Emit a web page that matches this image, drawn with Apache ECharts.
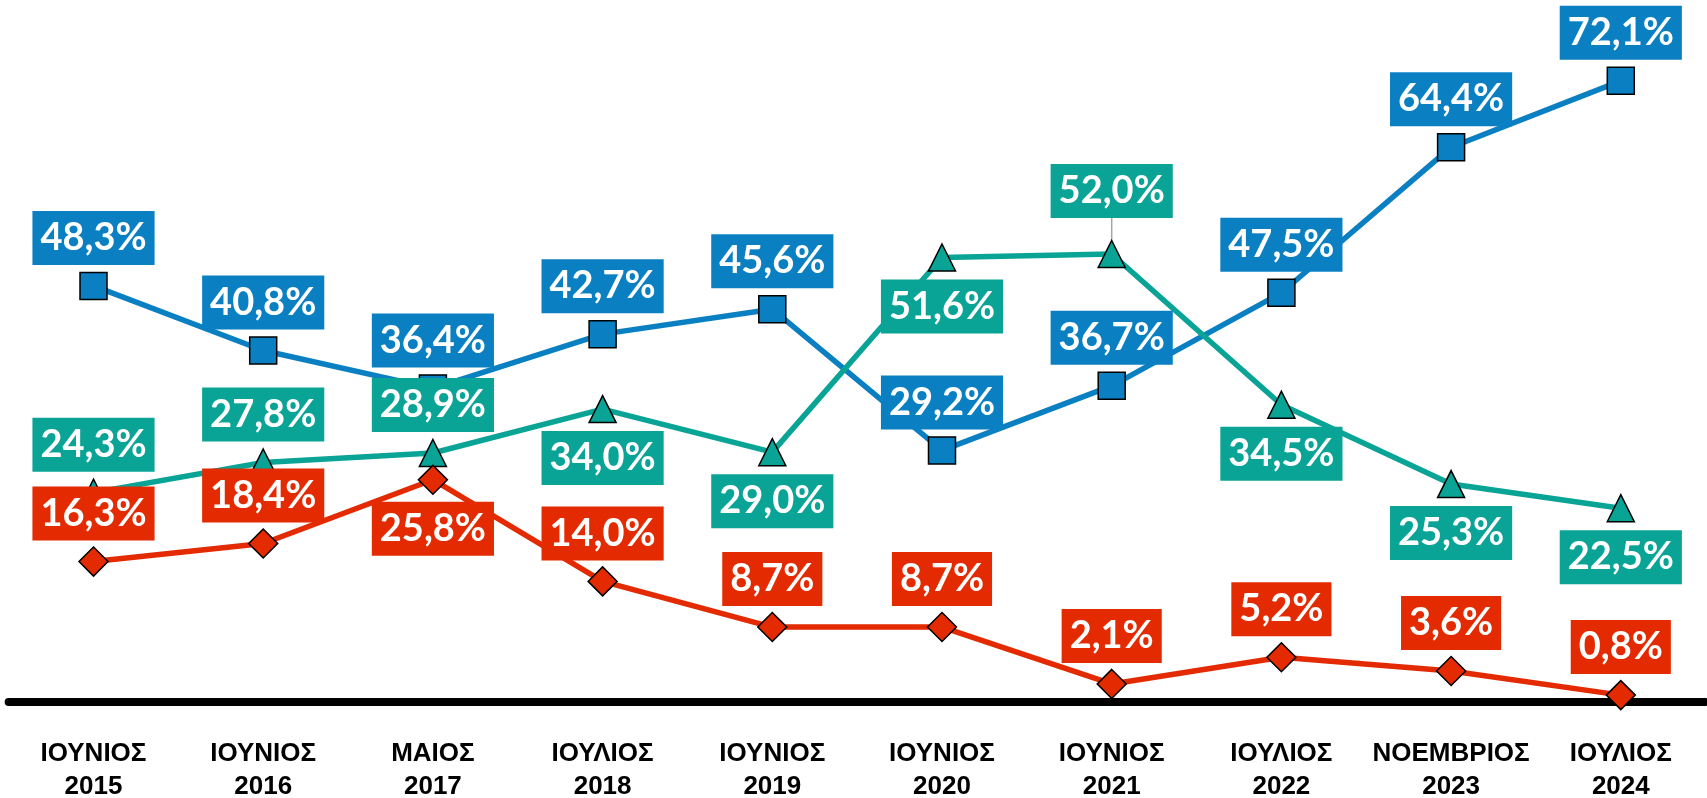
<!DOCTYPE html>
<html>
<head>
<meta charset="utf-8">
<script src="https://cdn.jsdelivr.net/npm/echarts@6/dist/echarts.min.js"></script>
<style>
  html, body { margin: 0; padding: 0; background: #fff; }
  #chart { width: 1707px; height: 798px; }
</style>
</head>
<body>
<div id="chart"></div>
<script>
// months and years on the x axis
const months = ['ΙΟΥΝΙΟΣ', 'ΙΟΥΝΙΟΣ', 'ΜΑΙΟΣ', 'ΙΟΥΛΙΟΣ', 'ΙΟΥΝΙΟΣ', 'ΙΟΥΝΙΟΣ', 'ΙΟΥΝΙΟΣ', 'ΙΟΥΛΙΟΣ', 'ΝΟΕΜΒΡΙΟΣ', 'ΙΟΥΛΙΟΣ'];
const years = ['2015', '2016', '2017', '2018', '2019', '2020', '2021', '2022', '2023', '2024'];

// series values (%)
const blueValues = [48.3, 40.8, 36.4, 42.7, 45.6, 29.2, 36.7, 47.5, 64.4, 72.1];
const greenValues = [24.3, 27.8, 28.9, 34.0, 29.0, 51.6, 52.0, 34.5, 25.3, 22.5];
const redValues = [16.3, 18.4, 25.8, 14.0, 8.7, 8.7, 2.1, 5.2, 3.6, 0.8];

// where each label sits: 1 = above the point, -1 = below, 2 = further above with a guide line
const blueSide = [1, 1, 1, 1, 1, 1, 1, 1, 1, 1];
const greenSide = [1, 1, 1, -1, -1, -1, 2, -1, -1, -1];
const redSide = [1, 1, -1, 1, 1, 1, 1, 1, 1, 1];

const categories = months.map((m, i) => m + '\n' + years[i]);

function fmt(p) {
    return p.value.toFixed(1).replace('.', ',') + '%';
}

function buildData(values, side) {
    return values.map((v, i) => {
        let dy = side[i] === 1 ? -48 : (side[i] === -1 ? 49 : -63);
        const item = {
            value: v,
            label: { offset: [0, dy] }
        };
        if (side[i] === 2) {
            item.labelLine = { show: true, lineStyle: { color: '#a6a6a6', width: 1.5 } };
        }
        return item;
    });
}

function makeSeries(name, values, side, color, symbol, size) {
    return {
        name: name,
        type: 'line',
        data: buildData(values, side),
        symbol: symbol,
        symbolSize: size,
        color: color,
        lineStyle: { width: 5.5, color: color },
        itemStyle: { color: color, borderColor: '#000', borderWidth: 1.5 },
        label: {
            show: true,
            position: 'inside',
            formatter: fmt,
            color: '#fff',
            backgroundColor: color,
            fontFamily: 'Lato',
            fontWeight: 'bold',
            fontSize: 38,
            lineHeight: 54,
            padding: [0, 8]
        },
        emphasis: { disabled: true }
    };
}

const chart = echarts.init(document.getElementById('chart'));
chart.setOption({
    animation: false,
    grid: { left: 8.65, width: 1697, top: 12.8, bottom: 96, outerBoundsMode: 'none', containLabel: false },
    xAxis: {
        type: 'category',
        data: categories,
        boundaryGap: true,
        axisLine: { lineStyle: { color: '#000', width: 8 } },
        axisTick: { show: false },
        axisLabel: {
            color: '#000',
            fontFamily: 'Liberation Sans',
            fontWeight: 'bold',
            fontSize: 26,
            lineHeight: 33,
            margin: 35,
            interval: 0
        }
    },
    yAxis: {
        type: 'value',
        min: 0,
        max: 80,
        show: false,
        splitLine: { show: false }
    },
    series: [
        makeSeries('blue', blueValues, blueSide, '#0a80c2', 'rect', 27),
        makeSeries('green', greenValues, greenSide, '#0aa496', 'triangle', 27),
        makeSeries('red', redValues, redSide, '#e32a00', 'diamond', 29)
    ]
});
</script>
</body>
</html>
